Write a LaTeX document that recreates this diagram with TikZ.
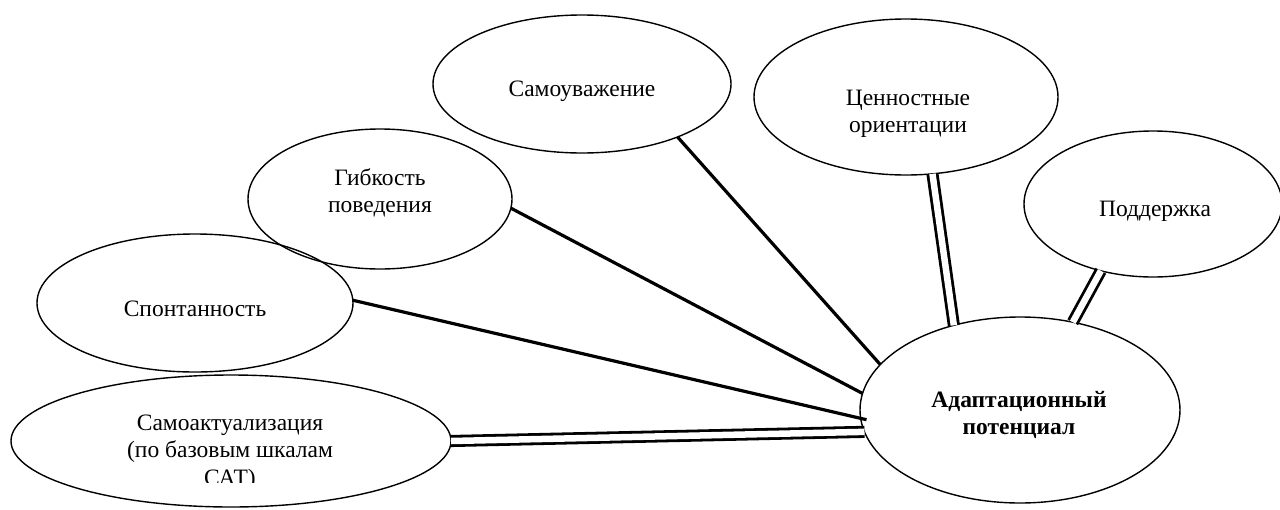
\documentclass[tikz,border=0pt]{standalone}
\usepackage{fontspec}
\setmainfont{Liberation Serif}
\usetikzlibrary{shapes.geometric}
\begin{document}
\begin{tikzpicture}[x=1pt,y=-1pt,
  oval/.style={draw=black, line width=1.4pt, ellipse, inner sep=0pt, outer sep=0pt},
  lbl/.style={align=center, inner sep=0pt, font=\fontsize{23.5}{27.5}\selectfont},
  single/.style={draw=black, line width=3.2pt},
  twin/.style={draw=black, line width=2.8pt, double=white, double distance=6.5pt}]
\useasboundingbox (0,0) rectangle (1280,509);

% ellipses
\node[oval, minimum width=298, minimum height=138] (samo)  at (582,84)  {};
\node[oval, minimum width=304, minimum height=156] (cenn)  at (906,97)  {};
\node[oval, minimum width=258, minimum height=146] (podd)  at (1153,204) {};
\node[oval, minimum width=264, minimum height=140] (gibk)  at (380,199) {};
\node[oval, minimum width=316, minimum height=138] (spont) at (195,303) {};
\node[oval, minimum width=440, minimum height=132] (akt)   at (231,441) {};
\node[oval, minimum width=320, minimum height=186] (adapt) at (1020,410) {};

% labels
\node[lbl] (samoT)  at (582,91)    {Самоуважение};
\node[lbl] (spontT) at (195,308.5) {Спонтанность};
\node[lbl] (poddT)  at (1155,211)  {Поддержка};
\node[lbl] (gibkT)  at (380,193)   {Гибкость\\поведения};
\node[lbl] (cennT)  at (908,114)   {Ценностные\\ориентации};
\node[lbl, font=\fontsize{23.5}{27.5}\selectfont\bfseries] (adaptT) at (1019,415) {Адаптационный\\потенциал};
\begin{scope}
  \clip (0,395) rectangle (460,482);
  \node[lbl] (aktT) at (230,452.5) {Самоактуализация\\(по базовым шкалам\\САТ)};
\end{scope}

% connectors
\draw[single] (samo.-29.6) -- (adapt.162.4);
\draw[single] (gibk.-4.7) -- (adapt.174);
\draw[single, shorten >=-6pt] (spont.1.1) -- (adapt.183);
\draw[twin] (akt.-0.5) -- (adapt.188.9);
\draw[twin] (cenn.-71.8) -- (adapt.128.7);
\draw[twin] (podd.232.3) -- (adapt.59.5);
\end{tikzpicture}
\end{document}
